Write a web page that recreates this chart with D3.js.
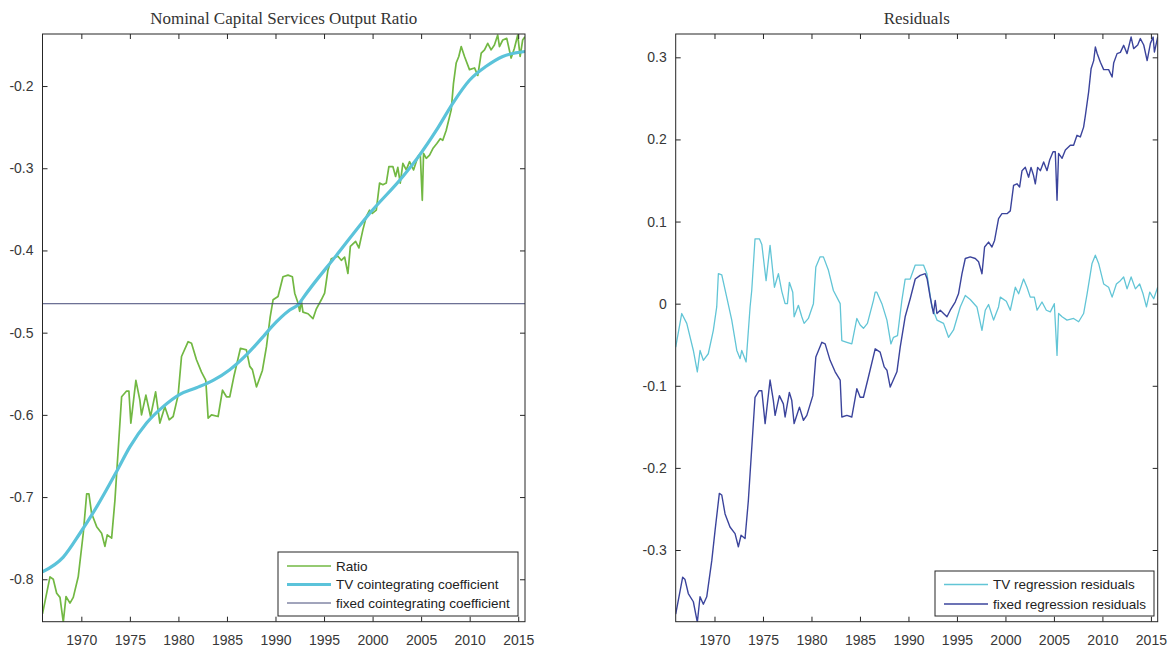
<!DOCTYPE html>
<html>
<head>
<meta charset="utf-8">
<script src="https://cdn.jsdelivr.net/npm/d3@7"></script>
<style>
  body { margin: 0; background: #fff; }
  text { font-family: "Liberation Sans", Arial, sans-serif; }
</style>
</head>
<body>
<script>
// ---- data ----
const xTicks = [1970, 1975, 1980, 1985, 1990, 1995, 2000, 2005, 2010, 2015];
const xExtent = [1966, 2015.7];

const leftTitle = 'Nominal Capital Services Output Ratio';
const leftYTicks = [-0.2, -0.3, -0.4, -0.5, -0.6, -0.7, -0.8];
const leftYExtent = [-0.8516, -0.1367];

const rightTitle = 'Residuals';
const rightYTicks = [0.3, 0.2, 0.1, 0, -0.1, -0.2, -0.3];
const rightYExtent = [-0.3873, 0.3284];

// [year, value]
const ratio = [
  [1966.0,-0.842],[1966.77,-0.797],[1967.11,-0.800],[1967.46,-0.817],[1967.8,-0.822],
  [1968.14,-0.852],[1968.42,-0.821],[1968.83,-0.829],[1969.17,-0.822],[1969.68,-0.797],
  [1970.2,-0.744],[1970.55,-0.696],[1970.78,-0.696],[1971.06,-0.720],[1971.58,-0.736],
  [1972.09,-0.744],[1972.43,-0.760],[1972.67,-0.746],[1973.12,-0.750],[1973.46,-0.704],
  [1974.15,-0.578],[1974.66,-0.571],[1974.9,-0.571],[1975.1,-0.610],[1975.62,-0.558],
  [1976.03,-0.582],[1976.2,-0.600],[1976.65,-0.576],[1977.13,-0.602],[1977.65,-0.572],
  [1978.09,-0.610],[1978.6,-0.590],[1979.05,-0.606],[1979.46,-0.602],[1979.97,-0.576],
  [1980.32,-0.529],[1981.0,-0.511],[1981.35,-0.513],[1981.86,-0.533],[1982.38,-0.548],
  [1982.82,-0.558],[1983.06,-0.604],[1983.41,-0.600],[1984.09,-0.602],[1984.54,-0.570],
  [1984.95,-0.578],[1985.29,-0.578],[1985.7,-0.554],[1986.39,-0.519],[1987.0,-0.521],
  [1987.35,-0.541],[1987.62,-0.545],[1988.04,-0.566],[1988.65,-0.546],[1989.07,-0.517],
  [1989.45,-0.481],[1989.75,-0.460],[1990.26,-0.456],[1990.77,-0.432],[1991.29,-0.430],
  [1991.74,-0.432],[1991.98,-0.452],[1992.32,-0.464],[1992.49,-0.474],[1992.67,-0.462],
  [1992.83,-0.475],[1993.35,-0.477],[1993.86,-0.483],[1994.21,-0.471],[1994.72,-0.460],
  [1995.06,-0.452],[1995.4,-0.424],[1995.75,-0.410],[1996.43,-0.407],[1996.78,-0.412],
  [1997.12,-0.408],[1997.46,-0.428],[1997.71,-0.395],[1998.25,-0.389],[1998.59,-0.397],
  [1999.0,-0.375],[1999.35,-0.359],[1999.69,-0.351],[1999.97,-0.355],[2000.38,-0.351],
  [2000.72,-0.318],[2001.06,-0.320],[2001.41,-0.318],[2001.68,-0.298],[2002.09,-0.298],
  [2002.37,-0.310],[2002.6,-0.299],[2002.85,-0.318],[2003.12,-0.294],[2003.47,-0.302],
  [2003.81,-0.292],[2004.22,-0.302],[2004.66,-0.286],[2004.91,-0.282],[2005.12,-0.339],
  [2005.25,-0.282],[2005.53,-0.288],[2005.87,-0.284],[2006.21,-0.276],[2006.62,-0.270],
  [2006.97,-0.264],[2007.23,-0.266],[2007.58,-0.254],[2008.1,-0.229],[2008.33,-0.197],
  [2008.61,-0.172],[2008.88,-0.164],[2009.13,-0.152],[2009.47,-0.164],[2009.98,-0.180],
  [2010.5,-0.178],[2010.84,-0.187],[2011.19,-0.160],[2011.53,-0.156],[2011.86,-0.148],
  [2012.21,-0.156],[2012.55,-0.150],[2012.89,-0.138],[2013.07,-0.152],[2013.41,-0.144],
  [2013.82,-0.142],[2014.27,-0.166],[2014.61,-0.154],[2014.95,-0.138],[2015.2,-0.164],
  [2015.46,-0.144],[2015.7,-0.140]
];

const tvCoef = [
  [1966.0,-0.791],[1968.14,-0.773],[1969.86,-0.744],[1971.58,-0.712],[1973.63,-0.669],
  [1975.0,-0.639],[1976.72,-0.610],[1978.43,-0.590],[1980.15,-0.575],[1981.86,-0.567],
  [1983.57,-0.558],[1985.29,-0.545],[1987.0,-0.527],[1988.72,-0.505],[1989.6,-0.493],
  [1991.46,-0.4725],[1992.42,-0.465],[1992.83,-0.458],[1996.27,-0.406],[1999.69,-0.355],
  [2003.12,-0.310],[2004.84,-0.284],[2006.56,-0.254],[2008.26,-0.221],[2009.98,-0.193],
  [2011.7,-0.176],[2013.41,-0.164],[2015.7,-0.158]
];

const fixedCoef = -0.4648;

const tvResid = [
  [1966.0,-0.053],[1966.62,-0.012],[1967.14,-0.024],[1967.82,-0.057],[1968.23,-0.083],
  [1968.51,-0.057],[1968.85,-0.069],[1969.36,-0.061],[1969.88,-0.0325],[1970.23,-0.004],
  [1970.4,0.0365],[1970.75,0.035],[1971.26,0.008],[1971.78,-0.020],[1972.3,-0.057],
  [1972.64,-0.067],[1972.81,-0.057],[1973.26,-0.071],[1973.67,-0.004],[1973.84,0.016],
  [1974.18,0.079],[1974.63,0.079],[1974.88,0.072],[1975.32,0.028],[1975.73,0.071],
  [1976.18,0.020],[1976.59,0.0365],[1976.94,0.015],[1977.28,0.0],[1977.52,0.0],
  [1977.72,0.026],[1978.07,0.014],[1978.21,-0.016],[1978.65,-0.002],[1979.0,-0.016],
  [1979.24,-0.024],[1979.68,-0.018],[1980.2,0.0],[1980.45,0.0446],[1980.89,0.057],
  [1981.23,0.057],[1981.75,0.0406],[1982.26,0.016],[1982.96,0.0],[1983.13,-0.045],
  [1983.65,-0.047],[1984.16,-0.049],[1984.68,-0.018],[1985.02,-0.026],[1985.36,-0.030],
  [1985.77,-0.024],[1986.39,0.004],[1986.57,0.014],[1986.74,0.014],[1987.26,0.0],
  [1987.78,-0.020],[1988.19,-0.049],[1988.46,-0.041],[1988.87,-0.039],[1989.32,0.004],
  [1989.66,0.030],[1990.18,0.030],[1990.7,0.047],[1991.55,0.047],[1991.9,0.0365],
  [1992.42,-0.004],[1992.94,-0.020],[1993.62,-0.024],[1994.13,-0.041],[1994.65,-0.032],
  [1995.34,-0.004],[1995.86,0.010],[1996.37,0.005],[1997.06,-0.004],[1997.58,-0.0325],
  [1997.92,-0.008],[1998.26,-0.001],[1998.78,-0.020],[1999.29,-0.004],[1999.47,0.008],
  [2000.09,0.003],[2000.5,-0.008],[2001.02,0.020],[2001.36,0.012],[2001.87,0.030],
  [2002.22,0.020],[2002.56,0.008],[2002.98,0.008],[2003.26,-0.008],[2003.77,0.002],
  [2004.22,-0.008],[2004.63,-0.010],[2005.04,0.0],[2005.32,-0.063],[2005.48,-0.012],
  [2005.84,-0.016],[2006.35,-0.020],[2007.03,-0.018],[2007.55,-0.022],[2008.06,-0.012],
  [2008.42,0.012],[2008.93,0.049],[2009.27,0.059],[2009.61,0.049],[2010.13,0.024],
  [2010.64,0.020],[2011.0,0.008],[2011.44,0.024],[2011.85,0.028],[2012.19,0.0325],
  [2012.54,0.018],[2012.96,0.0325],[2013.4,0.018],[2013.84,0.024],[2014.19,0.012],
  [2014.54,-0.004],[2014.88,0.014],[2015.29,0.006],[2015.7,0.020]
];

const fixedResid = [
  [1966.0,-0.378],[1966.72,-0.333],[1966.96,-0.336],[1967.3,-0.353],[1967.82,-0.363],
  [1968.23,-0.388],[1968.51,-0.357],[1968.85,-0.366],[1969.2,-0.357],[1969.72,-0.313],
  [1970.06,-0.276],[1970.5,-0.231],[1970.75,-0.233],[1971.09,-0.256],[1971.6,-0.272],
  [1972.12,-0.280],[1972.46,-0.296],[1972.74,-0.282],[1973.15,-0.286],[1973.49,-0.240],
  [1974.18,-0.114],[1974.6,-0.106],[1974.88,-0.106],[1975.22,-0.146],[1975.73,-0.093],
  [1976.07,-0.118],[1976.25,-0.136],[1976.69,-0.112],[1977.1,-0.122],[1977.28,-0.138],
  [1977.72,-0.108],[1977.97,-0.118],[1978.21,-0.146],[1978.76,-0.126],[1979.17,-0.142],
  [1979.52,-0.136],[1980.14,-0.112],[1980.45,-0.065],[1981.07,-0.047],[1981.41,-0.049],
  [1981.92,-0.069],[1982.44,-0.083],[1982.96,-0.093],[1983.13,-0.138],[1983.65,-0.136],
  [1984.16,-0.138],[1984.68,-0.1035],[1985.02,-0.114],[1985.36,-0.114],[1985.88,-0.089],
  [1986.57,-0.055],[1987.08,-0.059],[1987.5,-0.077],[1987.78,-0.081],[1988.12,-0.1015],
  [1988.81,-0.083],[1989.15,-0.053],[1989.66,-0.016],[1990.18,0.006],[1990.7,0.030],
  [1991.21,0.0345],[1991.73,0.0365],[1991.93,0.030],[1992.24,0.008],[1992.58,-0.012],
  [1992.76,0.004],[1992.94,-0.012],[1993.28,-0.008],[1993.62,-0.012],[1993.97,-0.016],
  [1994.31,-0.008],[1994.82,0.002],[1995.16,0.012],[1995.52,0.0365],[1995.86,0.055],
  [1996.37,0.057],[1996.89,0.055],[1997.23,0.051],[1997.58,0.0365],[1997.85,0.069],
  [1998.26,0.075],[1998.61,0.069],[1998.88,0.077],[1999.29,0.1035],[1999.64,0.1096],
  [2000.16,0.1096],[2000.5,0.113],[2000.84,0.144],[2001.19,0.146],[2001.46,0.142],
  [2001.71,0.162],[2002.05,0.166],[2002.39,0.154],[2002.64,0.166],[2002.9,0.156],
  [2003.08,0.146],[2003.32,0.166],[2003.6,0.162],[2003.94,0.1725],[2004.29,0.162],
  [2004.56,0.175],[2004.91,0.185],[2005.14,0.185],[2005.32,0.126],[2005.48,0.183],
  [2005.84,0.177],[2006.18,0.187],[2006.69,0.193],[2007.03,0.193],[2007.38,0.205],
  [2007.72,0.203],[2008.06,0.215],[2008.24,0.229],[2008.58,0.258],[2008.83,0.286],
  [2009.1,0.296],[2009.27,0.3125],[2009.45,0.305],[2009.79,0.294],[2010.13,0.285],
  [2010.64,0.285],[2011.0,0.276],[2011.16,0.293],[2011.51,0.3045],[2011.85,0.306],
  [2012.19,0.3146],[2012.54,0.3045],[2012.96,0.3247],[2013.22,0.3106],[2013.64,0.315],
  [2013.91,0.3228],[2014.26,0.315],[2014.61,0.296],[2014.95,0.317],[2015.23,0.3247],
  [2015.36,0.3065],[2015.7,0.3247]
];

// ---- drawing ----
const width = 1176, height = 652;
const plotTop = 34, plotBottom = 621.7;
const axisColor = '#262626';

const svg = d3.select('body').append('svg')
  .attr('width', width)
  .attr('height', height)
  .style('background', '#fff');

const yFmt = d => d === 0 ? '0' : d.toFixed(1);

function panel(p) {
  const xScale = d3.scaleLinear().domain(xExtent).range([p.left, p.right]);
  const yScale = d3.scaleLinear().domain(p.yExtent).range([plotBottom, plotTop]);
  const g = svg.append('g');

  const clipId = 'clip' + p.id;
  svg.append('clipPath').attr('id', clipId)
    .append('rect')
      .attr('x', p.left).attr('y', plotTop)
      .attr('width', p.right - p.left).attr('height', plotBottom - plotTop);

  // title
  g.append('text')
    .attr('x', (p.left + p.right) / 2)
    .attr('y', 23.5)
    .attr('text-anchor', 'middle')
    .style('font-family', '"Liberation Serif", "DejaVu Serif", serif')
    .style('font-size', '17px')
    .attr('fill', '#333')
    .text(p.title);

  // series
  const line = d3.line().x(d => xScale(d[0])).y(d => yScale(d[1]));
  const lines = g.append('g').attr('clip-path', `url(#${clipId})`);
  p.series.forEach(s => {
    if (s.hline !== undefined) {
      lines.append('line')
        .attr('x1', p.left).attr('x2', p.right)
        .attr('y1', yScale(s.hline)).attr('y2', yScale(s.hline))
        .attr('stroke', s.color).attr('stroke-width', s.w);
    } else {
      lines.append('path')
        .attr('fill', 'none')
        .attr('stroke', s.color)
        .attr('stroke-width', s.w)
        .attr('stroke-linejoin', 'round')
        .attr('d', line.curve(s.smooth ? d3.curveMonotoneX : d3.curveLinear)(s.data));
    }
  });

  // axes, ticks inside like matlab
  const styleAxis = sel => {
    sel.select('.domain').remove();
    sel.selectAll('.tick line').attr('stroke', axisColor);
    sel.selectAll('.tick text')
      .attr('fill', '#383838')
      .style('font-size', '14px')
      .style('font-family', '"Liberation Sans", Arial, sans-serif');
  };
  g.append('g').attr('transform', `translate(0,${plotBottom})`)
    .call(d3.axisBottom(xScale).tickValues(xTicks).tickSize(-5).tickPadding(13).tickFormat(d3.format('d')))
    .call(styleAxis);
  g.append('g').attr('transform', `translate(0,${plotTop})`)
    .call(d3.axisTop(xScale).tickValues(xTicks).tickSize(-5).tickFormat(''))
    .call(styleAxis);
  g.append('g').attr('transform', `translate(${p.left},0)`)
    .call(d3.axisLeft(yScale).tickValues(p.yTicks).tickSize(-5).tickPadding(9).tickFormat(yFmt))
    .call(styleAxis);
  g.append('g').attr('transform', `translate(${p.right},0)`)
    .call(d3.axisRight(yScale).tickValues(p.yTicks).tickSize(-5).tickFormat(''))
    .call(styleAxis);

  g.append('rect')
    .attr('x', p.left).attr('y', plotTop)
    .attr('width', p.right - p.left).attr('height', plotBottom - plotTop)
    .attr('fill', 'none').attr('stroke', axisColor).attr('stroke-width', 1);

  // legend
  const L = p.legend;
  const lg = g.append('g');
  lg.append('rect')
    .attr('x', L.x).attr('y', L.y).attr('width', L.w).attr('height', L.h)
    .attr('fill', '#fff').attr('stroke', axisColor).attr('stroke-width', 1);
  p.series.forEach((s, i) => {
    const yy = L.y + L.first + i * L.step;
    lg.append('line')
      .attr('x1', L.x + 9).attr('x2', L.x + 53)
      .attr('y1', yy).attr('y2', yy)
      .attr('stroke', s.color).attr('stroke-width', s.w);
    lg.append('text')
      .attr('x', L.x + 58).attr('y', yy)
      .attr('dy', '0.35em')
      .attr('fill', '#222')
      .style('font-size', '13.5px')
      .text(s.name);
  });
}

panel({
  id: 'L', left: 42.5, right: 525,
  title: leftTitle, yExtent: leftYExtent, yTicks: leftYTicks,
  series: [
    { name: 'Ratio', data: ratio, color: '#72b843', w: 1.7 },
    { name: 'TV cointegrating coefficient', data: tvCoef, color: '#5bc3da', w: 3.2, smooth: true },
    { name: 'fixed cointegrating coefficient', hline: fixedCoef, color: '#454a78', w: 1 }
  ],
  legend: { x: 278, y: 552, w: 240, h: 64, first: 14, step: 18.5 }
});

panel({
  id: 'R', left: 675.7, right: 1157.7,
  title: rightTitle, yExtent: rightYExtent, yTicks: rightYTicks,
  series: [
    { name: 'TV regression residuals', data: tvResid, color: '#62c5d6', w: 1.3 },
    { name: 'fixed regression residuals', data: fixedResid, color: '#3b449c', w: 1.4 }
  ],
  legend: { x: 935, y: 571, w: 219, h: 45, first: 13.5, step: 19.5 }
});
</script>
</body>
</html>
